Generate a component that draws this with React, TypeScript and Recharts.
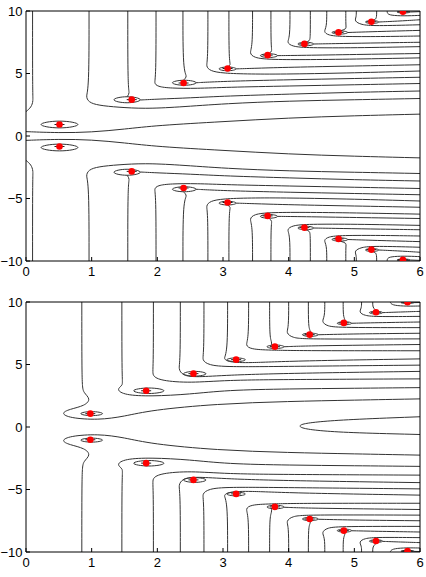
import React from "react";
import { ComposedChart, Line, XAxis, YAxis, Scatter } from "recharts";

type Pt = [number, number];
type Ell = [number, number, number, number];

const xTicks = [0, 1, 2, 3, 4, 5, 6];
const yTicks = [-10, -5, 0, 5, 10];

// ---------- TOP PANEL ----------
const topZeros: Pt[] = [
  [0.51, 0.92], [1.61, 2.91], [2.4, 4.24], [3.07, 5.4], [3.68, 6.47], [4.24, 7.37], [4.76, 8.29], [5.26, 9.14], [5.74, 9.94],
  [0.51, -0.84], [1.61, -2.83], [2.4, -4.16], [3.07, -5.32], [3.68, -6.39], [4.24, -7.33], [4.76, -8.23], [5.26, -9.09], [5.74, -9.9],
];

const topEllipses: Ell[] = [
  [0.51, 0.92, 0.28, 0.27], [1.54, 2.9, 0.2, 0.24], [2.41, 4.26, 0.18, 0.2], [3.07, 5.37, 0.13, 0.15], [3.7, 6.43, 0.13, 0.15],
  [4.26, 7.36, 0.12, 0.14], [4.78, 8.28, 0.12, 0.13], [5.27, 9.12, 0.1, 0.12], [5.75, 9.92, 0.1, 0.08],
  [0.51, -0.92, 0.28, 0.27], [1.54, -2.9, 0.2, 0.24], [2.41, -4.26, 0.18, 0.2], [3.07, -5.37, 0.13, 0.15], [3.7, -6.43, 0.13, 0.15],
  [4.26, -7.36, 0.12, 0.14], [4.78, -8.28, 0.12, 0.13], [5.27, -9.12, 0.1, 0.12], [5.75, -9.92, 0.1, 0.08],
];

const topUpperLines: Pt[][] = [
  [[0.1, 10], [0.1, 3.3], [0.11, 2.8], [0.08, 2.3], [0, 1.95]],
  [[0, 0.35], [0.5, 0.25], [1.0, 0.3], [1.5, 0.55], [2.0, 0.85], [3.0, 1.15], [4.0, 1.45], [5.0, 1.62], [6, 1.75]],
  [[0.96, 10], [0.96, 3.75], [0.91, 3.2], [0.95, 2.7], [1.1, 2.45], [1.4, 2.3], [1.8, 2.18], [2.3, 2.3], [3.05, 2.6], [4, 2.8], [5, 2.9], [6, 3.0]],
  [[1.55, 10], [1.55, 3.8], [1.58, 3.45], [1.54, 3.14]],
  [[1.74, 2.88], [2.0, 2.95], [2.5, 3.05], [3.05, 3.2], [4, 3.35], [5, 3.5], [6, 3.6]],
  [[1.98, 10], [1.98, 4.65], [1.95, 4.25], [2.0, 3.95], [2.2, 3.82], [2.6, 3.8], [3.05, 3.9], [4, 4.0], [5, 4.1], [6, 4.2]],
  [[2.39, 10], [2.39, 5.15], [2.46, 4.8], [2.4, 4.47]],
  [[2.59, 4.26], [2.8, 4.32], [3.2, 4.4], [4, 4.5], [5, 4.6], [6, 4.7]],
  [[2.77, 10], [2.77, 6.0], [2.74, 5.6], [2.8, 5.2], [3.0, 5.02], [3.4, 4.95], [4, 4.95], [5, 5.05], [6, 5.2]],
  [[3.09, 10], [3.09, 6.0], [3.12, 5.7], [3.07, 5.52]],
  [[3.2, 5.37], [3.5, 5.42], [4, 5.5], [5, 5.6], [6, 5.7]],
  [[3.45, 10], [3.45, 7.1], [3.4, 6.65], [3.47, 6.25], [3.7, 6.12], [4.2, 6.1], [5, 6.15], [6, 6.25]],
  [[3.73, 10], [3.73, 7.1], [3.75, 6.8], [3.7, 6.58]],
  [[3.83, 6.43], [4.2, 6.45], [5, 6.52], [6, 6.6]],
  [[4.02, 10], [4.02, 7.85], [3.97, 7.5], [4.05, 7.15], [4.3, 7.05], [5, 7.05], [6, 7.15]],
  [[4.33, 10], [4.33, 7.9], [4.32, 7.6], [4.26, 7.5]],
  [[4.38, 7.36], [4.8, 7.4], [5.4, 7.45], [6, 7.5]],
  [[4.58, 10], [4.58, 8.7], [4.53, 8.35], [4.6, 8.05], [4.8, 7.95], [5.4, 7.95], [6, 8.0]],
  [[4.87, 10], [4.87, 8.8], [4.88, 8.55], [4.78, 8.41]],
  [[4.9, 8.28], [5.3, 8.35], [6, 8.45]],
  [[5.03, 10], [5.03, 9.5], [5.0, 9.2], [5.1, 8.9], [5.3, 8.8], [6, 8.9]],
  [[5.34, 10], [5.34, 9.5], [5.32, 9.3], [5.27, 9.24]],
  [[5.37, 9.12], [5.7, 9.2], [6, 9.3]],
  [[5.5, 10], [5.5, 9.8], [5.55, 9.65], [5.75, 9.6], [6, 9.65]],
  [[5.85, 9.92], [6, 9.95]],
];

const topLowerLines: Pt[][] = [
  [[0.1, -10], [0.1, -3.3], [0.11, -2.8], [0.08, -2.3], [0, -1.95]],
  [[0, -0.35], [0.5, -0.25], [1.0, -0.3], [1.5, -0.55], [2.0, -0.85], [3.0, -1.15], [4.0, -1.45], [5.0, -1.62], [6, -1.75]],
  [[0.96, -10], [0.96, -3.75], [0.91, -3.2], [0.95, -2.7], [1.1, -2.45], [1.4, -2.3], [1.8, -2.18], [2.3, -2.3], [3.05, -2.6], [4, -2.8], [5, -2.9], [6, -3.0]],
  [[1.55, -10], [1.55, -3.8], [1.58, -3.45], [1.54, -3.14]],
  [[1.74, -2.88], [2.0, -2.95], [2.5, -3.05], [3.05, -3.2], [4, -3.35], [5, -3.5], [6, -3.6]],
  [[1.98, -10], [1.98, -4.65], [1.95, -4.25], [2.0, -3.95], [2.2, -3.82], [2.6, -3.8], [3.05, -3.9], [4, -4.0], [5, -4.1], [6, -4.2]],
  [[2.39, -10], [2.39, -5.15], [2.46, -4.8], [2.4, -4.47]],
  [[2.59, -4.26], [2.8, -4.32], [3.2, -4.4], [4, -4.5], [5, -4.6], [6, -4.7]],
  [[2.77, -10], [2.77, -6.0], [2.74, -5.6], [2.8, -5.2], [3.0, -5.02], [3.4, -4.95], [4, -4.95], [5, -5.05], [6, -5.2]],
  [[3.09, -10], [3.09, -6.0], [3.12, -5.7], [3.07, -5.52]],
  [[3.2, -5.37], [3.5, -5.42], [4, -5.5], [5, -5.6], [6, -5.7]],
  [[3.45, -10], [3.45, -7.1], [3.4, -6.65], [3.47, -6.25], [3.7, -6.12], [4.2, -6.1], [5, -6.15], [6, -6.25]],
  [[3.73, -10], [3.73, -7.1], [3.75, -6.8], [3.7, -6.58]],
  [[3.83, -6.43], [4.2, -6.45], [5, -6.52], [6, -6.6]],
  [[4.02, -10], [4.02, -7.85], [3.97, -7.5], [4.05, -7.15], [4.3, -7.05], [5, -7.05], [6, -7.15]],
  [[4.33, -10], [4.33, -7.9], [4.32, -7.6], [4.26, -7.5]],
  [[4.38, -7.36], [4.8, -7.4], [5.4, -7.45], [6, -7.5]],
  [[4.58, -10], [4.58, -8.7], [4.53, -8.35], [4.6, -8.05], [4.8, -7.95], [5.4, -7.95], [6, -8.0]],
  [[4.87, -10], [4.87, -8.8], [4.88, -8.55], [4.78, -8.41]],
  [[4.9, -8.28], [5.3, -8.35], [6, -8.45]],
  [[5.03, -10], [5.03, -9.5], [5.0, -9.2], [5.1, -8.9], [5.3, -8.8], [6, -8.9]],
  [[5.34, -10], [5.34, -9.5], [5.32, -9.3], [5.27, -9.24]],
  [[5.37, -9.12], [5.7, -9.2], [6, -9.3]],
  [[5.5, -10], [5.5, -9.8], [5.55, -9.65], [5.75, -9.6], [6, -9.65]],
  [[5.85, -9.92], [6, -9.95]],
];

// ---------- BOTTOM PANEL ----------
const bottomZeros: Pt[] = [
  [0.98, 1.07], [1.83, 2.9], [2.55, 4.27], [3.2, 5.39], [3.79, 6.43], [4.32, 7.39], [4.84, 8.33], [5.33, 9.18], [5.81, 9.98],
  [0.98, -1.02], [1.83, -2.89], [2.55, -4.23], [3.2, -5.35], [3.79, -6.39], [4.32, -7.36], [4.84, -8.29], [5.33, -9.12], [5.81, -9.92],
];

const bottomEllipses: Ell[] = [
  [1.0, 1.07, 0.165, 0.16], [1.87, 2.9, 0.23, 0.22], [2.57, 4.26, 0.17, 0.19], [3.2, 5.38, 0.14, 0.15], [3.8, 6.42, 0.13, 0.14],
  [4.33, 7.38, 0.12, 0.13], [4.85, 8.3, 0.11, 0.12], [5.33, 9.15, 0.1, 0.11], [5.81, 9.95, 0.1, 0.06],
  [1.0, -1.05, 0.165, 0.16], [1.87, -2.9, 0.23, 0.22], [2.57, -4.24, 0.17, 0.19], [3.2, -5.36, 0.14, 0.15], [3.8, -6.4, 0.13, 0.14],
  [4.33, -7.36, 0.12, 0.13], [4.85, -8.29, 0.11, 0.12], [5.33, -9.13, 0.1, 0.11], [5.81, -9.93, 0.1, 0.06],
];

const bottomHairpin: Pt[] = [[6, 0.82], [5, 0.62], [4.5, 0.45], [4.22, 0.27], [4.15, 0.08], [4.22, -0.13], [4.5, -0.32], [5, -0.47], [6, -0.6]];

const bottomUpperLines: Pt[][] = [
  [[0.85, 10], [0.85, 3.4], [0.87, 2.75], [0.99, 2.25], [0.9, 1.7], [0.66, 1.42], [0.53, 1.1], [0.66, 0.72], [1.1, 0.55], [1.5, 0.85], [1.9, 1.35], [2.9, 1.85], [4, 2.05], [5, 2.15], [6, 2.25]],
  [[1.46, 10], [1.46, 3.7], [1.48, 3.35], [1.37, 3.0], [1.5, 2.55], [1.9, 2.45], [2.5, 2.62], [3.05, 2.95], [4, 3.05], [5, 3.1], [6, 3.15]],
  [[1.94, 10], [1.94, 4.6], [1.92, 4.1], [2.05, 3.7], [2.5, 3.52], [3.05, 3.75], [4, 3.8], [6, 3.85]],
  [[2.35, 10], [2.35, 5.1], [2.32, 4.7], [2.38, 4.1], [2.6, 3.98], [3.05, 4.15], [4, 4.3], [6, 4.45]],
  [[2.71, 10], [2.71, 5.8], [2.68, 5.35], [2.78, 4.95], [3.05, 4.8], [4, 4.85], [6, 4.95]],
  [[3.07, 10], [3.07, 5.85], [3.0, 5.5], [3.08, 5.18], [3.4, 5.12], [4, 5.28], [6, 5.45]],
  [[3.39, 10], [3.39, 7.0], [3.34, 6.55], [3.42, 6.22], [3.7, 6.15], [4.2, 6.1], [6, 6.1]],
  [[3.71, 10], [3.71, 7.2], [3.74, 6.85], [3.74, 6.56]],
  [[3.93, 6.42], [4.3, 6.5], [6, 6.6]],
  [[4.0, 10], [4.0, 7.9], [3.96, 7.55], [4.05, 7.12], [4.3, 7.02], [6, 7.05]],
  [[4.3, 10], [4.3, 8.0], [4.33, 7.7], [4.33, 7.51]],
  [[4.45, 7.38], [5, 7.45], [6, 7.5]],
  [[4.55, 10], [4.55, 8.8], [4.5, 8.45], [4.58, 8.05], [4.8, 7.95], [6, 7.95]],
  [[4.83, 10], [4.83, 8.85], [4.86, 8.6], [4.85, 8.42]],
  [[4.96, 8.3], [5.4, 8.35], [6, 8.4]],
  [[5.11, 10], [5.11, 9.5], [5.07, 9.2], [5.15, 8.9], [5.35, 8.82], [6, 8.85]],
  [[5.28, 10], [5.28, 9.55], [5.32, 9.4], [5.33, 9.26]],
  [[5.43, 9.15], [5.7, 9.2], [6, 9.25]],
  [[5.55, 10], [5.55, 9.9], [5.6, 9.72], [5.8, 9.66], [6, 9.68]],
  [[5.91, 9.95], [6, 9.96]],
];

const bottomLowerLines: Pt[][] = [
  [[0.85, -10], [0.85, -3.4], [0.87, -2.75], [0.99, -2.25], [0.9, -1.7], [0.66, -1.42], [0.53, -1.1], [0.66, -0.72], [1.1, -0.55], [1.5, -0.85], [1.9, -1.35], [2.9, -1.85], [4, -2.05], [5, -2.15], [6, -2.25]],
  [[1.46, -10], [1.46, -3.7], [1.48, -3.35], [1.37, -3.0], [1.5, -2.55], [1.9, -2.45], [2.5, -2.62], [3.05, -2.95], [4, -3.05], [5, -3.1], [6, -3.15]],
  [[1.94, -10], [1.94, -4.6], [1.92, -4.1], [2.05, -3.7], [2.5, -3.52], [3.05, -3.75], [4, -3.8], [6, -3.85]],
  [[2.35, -10], [2.35, -5.1], [2.32, -4.7], [2.38, -4.1], [2.6, -3.98], [3.05, -4.15], [4, -4.3], [6, -4.45]],
  [[2.71, -10], [2.71, -5.8], [2.68, -5.35], [2.78, -4.95], [3.05, -4.8], [4, -4.85], [6, -4.95]],
  [[3.07, -10], [3.07, -5.85], [3.0, -5.5], [3.08, -5.18], [3.4, -5.12], [4, -5.28], [6, -5.45]],
  [[3.39, -10], [3.39, -7.0], [3.34, -6.55], [3.42, -6.22], [3.7, -6.15], [4.2, -6.1], [6, -6.1]],
  [[3.71, -10], [3.71, -7.2], [3.74, -6.85], [3.74, -6.56]],
  [[3.93, -6.42], [4.3, -6.5], [6, -6.6]],
  [[4.0, -10], [4.0, -7.9], [3.96, -7.55], [4.05, -7.12], [4.3, -7.02], [6, -7.05]],
  [[4.3, -10], [4.3, -8.0], [4.33, -7.7], [4.33, -7.51]],
  [[4.45, -7.38], [5, -7.45], [6, -7.5]],
  [[4.55, -10], [4.55, -8.8], [4.5, -8.45], [4.58, -8.05], [4.8, -7.95], [6, -7.95]],
  [[4.83, -10], [4.83, -8.85], [4.86, -8.6], [4.85, -8.42]],
  [[4.96, -8.3], [5.4, -8.35], [6, -8.4]],
  [[5.11, -10], [5.11, -9.5], [5.07, -9.2], [5.15, -8.9], [5.35, -8.82], [6, -8.85]],
  [[5.28, -10], [5.28, -9.55], [5.32, -9.4], [5.33, -9.26]],
  [[5.43, -9.15], [5.7, -9.2], [6, -9.25]],
  [[5.55, -10], [5.55, -9.9], [5.6, -9.72], [5.8, -9.66], [6, -9.68]],
  [[5.91, -9.95], [6, -9.96]],
];

// ---------- helpers ----------
const toRows = (pts: Pt[]) => pts.map(([x, y]) => ({ x, y }));
// closed B-spline control diamond for a small ellipse around a zero
const ellipseRows = ([cx, cy, rx, ry]: Ell) =>
  toRows([[cx - 1.5 * rx, cy], [cx, cy + 1.5 * ry], [cx + 1.5 * rx, cy], [cx, cy - 1.5 * ry]]);

const FONT = "'Liberation Sans', Arial, Helvetica, sans-serif";
const LINE_COLOR = "#333333";
const tickText = { fill: "#000", fontSize: 13, fontFamily: FONT };
const frame = { stroke: "#000", strokeWidth: 1 };
const fmt = (v: number) => String(v).replace("-", "\u2212");

const ZeroMark = (props: any) => {
  const { cx, cy } = props;
  if (cx == null || cy == null) return null;
  return (
    <g>
      <line x1={cx - 5} x2={cx + 5} y1={cy} y2={cy} stroke="#222" strokeWidth={1} />
      <circle cx={cx} cy={cy} r={3.3} fill="#ff0000" />
    </g>
  );
};

type PanelProps = {
  lines: Pt[][];
  ellipses: Ell[];
  zeros: Pt[];
  height: number;
  margin: { top: number; right: number; bottom: number; left: number };
};

function Panel({ lines, ellipses, zeros, height, margin }: PanelProps) {
  return (
    <ComposedChart width={426} height={height} margin={margin}>
      <XAxis
        xAxisId="b" type="number" dataKey="x" domain={[0, 6]} ticks={xTicks} interval={0}
        orientation="bottom" height={1} allowDataOverflow tickSize={-4} tickMargin={10}
        tick={tickText} axisLine={frame} tickLine={frame}
      />
      <XAxis
        xAxisId="t" type="number" dataKey="x" domain={[0, 6]} ticks={xTicks} interval={0}
        orientation="top" height={1} allowDataOverflow tickSize={-4} tick={false}
        axisLine={frame} tickLine={frame}
      />
      <YAxis
        yAxisId="l" type="number" dataKey="y" domain={[-10, 10]} ticks={yTicks} interval={0}
        orientation="left" width={1} allowDataOverflow tickSize={-4} tickMargin={7.5}
        tick={tickText} tickFormatter={fmt} axisLine={frame} tickLine={frame}
      />
      <YAxis
        yAxisId="r" type="number" dataKey="y" domain={[-10, 10]} ticks={yTicks} interval={0}
        orientation="right" width={1} allowDataOverflow tickSize={-4} tick={false}
        axisLine={frame} tickLine={frame}
      />
      {lines.map((pts, i) => (
        <Line
          key={"l" + i} xAxisId="b" yAxisId="l" data={toRows(pts)} dataKey="y" type="basis"
          stroke={LINE_COLOR} strokeWidth={1} dot={false} activeDot={false}
          isAnimationActive={false} legendType="none"
        />
      ))}
      {ellipses.map((e, i) => (
        <Line
          key={"e" + i} xAxisId="b" yAxisId="l" data={ellipseRows(e)} dataKey="y" type="basisClosed"
          stroke={LINE_COLOR} strokeWidth={1} dot={false} activeDot={false}
          isAnimationActive={false} legendType="none"
        />
      ))}
      <Scatter
        xAxisId="b" yAxisId="l" data={toRows(zeros)} dataKey="y" shape={ZeroMark}
        isAnimationActive={false} legendType="none"
      />
    </ComposedChart>
  );
}

export default function App() {
  return (
    <div style={{ position: "absolute", left: 0, top: 0, width: 426, height: 577, background: "#fff" }}>
      <div style={{ position: "absolute", left: 0, top: 0 }}>
        <Panel
          lines={[...topUpperLines, ...topLowerLines]}
          ellipses={topEllipses}
          zeros={topZeros}
          height={290}
          margin={{ top: 10, right: 5, bottom: 28, left: 25 }}
        />
      </div>
      <div style={{ position: "absolute", left: 0, top: 290 }}>
        <Panel
          lines={[...bottomUpperLines, ...bottomLowerLines, bottomHairpin]}
          ellipses={bottomEllipses}
          zeros={bottomZeros}
          height={287}
          margin={{ top: 11, right: 5, bottom: 24, left: 25 }}
        />
      </div>
    </div>
  );
}
